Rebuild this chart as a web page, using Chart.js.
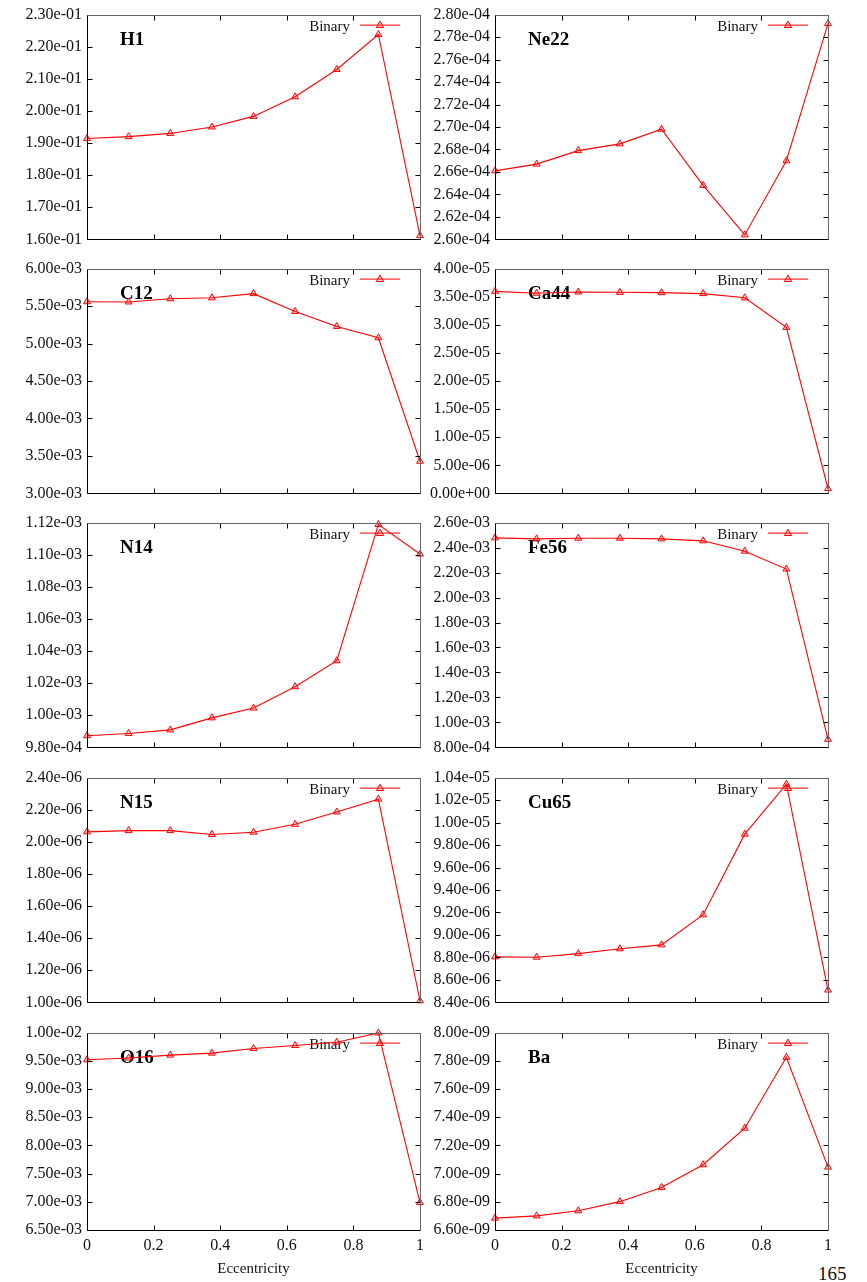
<!DOCTYPE html>
<html>
<head>
<meta charset="utf-8">
<script src="https://cdn.jsdelivr.net/npm/chart.js@4.4.0/dist/chart.umd.min.js"></script>
<style>
  html, body { margin: 0; padding: 0; background: #fff; }
  body { width: 867px; height: 1282px; position: relative; overflow: hidden; }
  .panel { position: absolute; }
  #page { position: absolute; left: 818px; top: 1264px; font: 19px 'Liberation Serif', serif; line-height: 19px; color: #111; }
</style>
</head>
<body>
<div id="page">165</div>
<script>
// Eccentricity grid and per-species abundances
const ecc  = [0, 0.125, 0.25, 0.375, 0.5, 0.625, 0.75, 0.875, 1];
const h1   = [1.914e-1, 1.920e-1, 1.930e-1, 1.950e-1, 1.983e-1, 2.044e-1, 2.129e-1, 2.238e-1, 1.612e-1];
const ne22 = [2.661e-4, 2.667e-4, 2.679e-4, 2.685e-4, 2.698e-4, 2.648e-4, 2.604e-4, 2.670e-4, 2.792e-4];
const c12  = [5.558e-3, 5.555e-3, 5.597e-3, 5.610e-3, 5.666e-3, 5.428e-3, 5.228e-3, 5.077e-3, 3.429e-3];
const ca44 = [3.595e-5, 3.561e-5, 3.584e-5, 3.578e-5, 3.572e-5, 3.555e-5, 3.480e-5, 2.954e-5, 0.087e-5];
const n14  = [9.873e-4, 9.887e-4, 9.909e-4, 9.984e-4, 1.0045e-3, 1.0178e-3, 1.0340e-3, 1.1188e-3, 1.1004e-3];
const fe56 = [2.478e-3, 2.470e-3, 2.475e-3, 2.475e-3, 2.470e-3, 2.454e-3, 2.371e-3, 2.228e-3, 0.865e-3];
const n15  = [2.062e-6, 2.070e-6, 2.070e-6, 2.046e-6, 2.060e-6, 2.109e-6, 2.186e-6, 2.266e-6, 1.010e-6];
const cu65 = [8.805e-6, 8.802e-6, 8.834e-6, 8.877e-6, 8.912e-6, 9.180e-6, 9.897e-6, 1.0342e-5, 8.510e-6];
const o16  = [9.519e-3, 9.549e-3, 9.601e-3, 9.636e-3, 9.719e-3, 9.771e-3, 9.830e-3, 9.994e-3, 6.987e-3];
const ba   = [6.684e-9, 6.700e-9, 6.736e-9, 6.801e-9, 6.902e-9, 7.063e-9, 7.322e-9, 7.825e-9, 7.046e-9];

// Panels in reading order (left, right, left, right ...)
const species = ['H1', 'Ne22', 'C12', 'Ca44', 'N14', 'Fe56', 'N15', 'Cu65', 'O16', 'Ba'];
const seriesList = [h1, ne22, c12, ca44, n14, fe56, n15, cu65, o16, ba];
const yMins  = [1.6e-1, 2.6e-4, 3.0e-3, 0,      9.8e-4,  8.0e-4, 1.0e-6, 8.4e-6,  6.5e-3, 6.6e-9];
const yMaxs  = [2.3e-1, 2.8e-4, 6.0e-3, 4.0e-5, 1.12e-3, 2.6e-3, 2.4e-6, 1.04e-5, 1.0e-2, 8.0e-9];
const ySteps = [1e-2,   2e-6,   5e-4,   5e-6,   2e-5,    2e-4,   2e-7,   2e-7,    5e-4,   2e-10];
const xTicks = [0, 0.2, 0.4, 0.6, 0.8, 1];
const seriesLabel = 'Binary';
const xTitle = 'Eccentricity';

const SERIF = "'Liberation Serif', 'Times New Roman', serif";
const RED = '#ff0000';

// ── Helpers ────────────────────────────────────

function fmtSci(v) {
  const parts = v.toExponential(2).split('e');
  const sign = parts[1][0];
  const digits = parts[1].slice(1).padStart(2, '0');
  return parts[0] + 'e' + sign + digits;
}

function drawTriangle(ctx, x, y, r) {
  ctx.beginPath();
  ctx.moveTo(x, y - r);
  ctx.lineTo(x + r * 0.9, y + r * 0.6);
  ctx.lineTo(x - r * 0.9, y + r * 0.6);
  ctx.closePath();
  ctx.fillStyle = 'rgba(255,0,0,0.2)';
  ctx.fill();
  ctx.strokeStyle = RED;
  ctx.lineWidth = 1;
  ctx.stroke();
}

// gnuplot-like frame: box, inward ticks, bold species name, legend sample
const framePlugin = {
  id: 'frame',
  beforeDatasetsDraw(chart, args, opts) {
    const { ctx, chartArea: a } = chart;
    ctx.save();

    // name of the species
    ctx.font = 'bold 19px ' + SERIF;
    ctx.fillStyle = '#000';
    ctx.textAlign = 'left';
    ctx.textBaseline = 'alphabetic';
    ctx.fillText(opts.name, a.left + 33, a.top + 30);

    // legend: text, line, marker
    ctx.font = '15px ' + SERIF;
    ctx.fillStyle = '#111';
    ctx.textAlign = 'right';
    ctx.fillText(seriesLabel, a.right - 70, a.top + 16);
    const ly = a.top + 10.5;
    ctx.strokeStyle = RED;
    ctx.lineWidth = 1;
    ctx.beginPath();
    ctx.moveTo(a.right - 60, ly);
    ctx.lineTo(a.right - 20, ly);
    ctx.stroke();
    drawTriangle(ctx, a.right - 40, ly, 4);
    ctx.restore();
  },
  afterDatasetsDraw(chart) {
    const { ctx, chartArea: a, scales } = chart;
    ctx.save();
    ctx.lineWidth = 1;
    ctx.strokeStyle = '#000';
    const L = Math.round(a.left) + 0.5, R = Math.round(a.right) + 0.5;
    const T = Math.round(a.top) + 0.5, B = Math.round(a.bottom) + 0.5;
    // inward ticks
    ctx.beginPath();
    scales.y.ticks.forEach(t => {
      const py = Math.round(scales.y.getPixelForValue(t.value)) + 0.5;
      ctx.moveTo(L, py); ctx.lineTo(L + 5, py);
      ctx.moveTo(R, py); ctx.lineTo(R - 5, py);
    });
    scales.x.ticks.forEach(t => {
      const px = Math.round(scales.x.getPixelForValue(t.value)) + 0.5;
      ctx.moveTo(px, B); ctx.lineTo(px, B - 5);
      ctx.moveTo(px, T); ctx.lineTo(px, T + 5);
    });
    ctx.stroke();
    // box: left/bottom black, top/right grey
    ctx.beginPath();
    ctx.moveTo(L, T); ctx.lineTo(L, B); ctx.lineTo(R, B);
    ctx.stroke();
    ctx.strokeStyle = '#666';
    ctx.beginPath();
    ctx.moveTo(L, T); ctx.lineTo(R, T); ctx.lineTo(R, B);
    ctx.stroke();
    ctx.restore();
  },
};

// ── Panel builder ────────────────────────────────────

const rowTops = [12, 266, 520, 775, 1030];
const PAD_TOP = 12;

function createPanel(i) {
  const col = i % 2;
  const row = Math.floor(i / 2);
  const last = row === 4;
  const plotH = last ? 200 : 230;
  const axisH = last ? 52 : 12;
  const left = col === 0 ? 0 : 428;
  const width = col === 0 ? 430 : 439;
  const yAxisW = col === 0 ? 87 : 67;
  const padRight = col === 0 ? 10 : 39;

  const box = document.createElement('div');
  box.className = 'panel';
  box.style.left = left + 'px';
  box.style.top = (rowTops[row] - PAD_TOP) + 'px';
  box.style.width = width + 'px';
  box.style.height = (PAD_TOP + plotH + axisH) + 'px';
  const canvas = document.createElement('canvas');
  box.appendChild(canvas);
  document.body.appendChild(box);

  const vals = seriesList[i];
  const ymin = yMins[i], ymax = yMaxs[i], ystep = ySteps[i];

  return new Chart(canvas, {
    type: 'line',
    data: {
      datasets: [{
        label: seriesLabel,
        data: ecc.map((x, k) => ({ x, y: vals[k] })),
        borderColor: RED,
        borderWidth: 1.1,
        pointStyle: 'triangle',
        pointRadius: 4,
        pointBorderWidth: 1,
        pointBackgroundColor: 'rgba(255,0,0,0.2)',
        pointBorderColor: RED,
        tension: 0,
        clip: false,
      }],
    },
    options: {
      responsive: true,
      maintainAspectRatio: false,
      animation: false,
      events: [],
      layout: { padding: { top: PAD_TOP, right: padRight, bottom: 0, left: 0 } },
      plugins: {
        legend: { display: false },
        tooltip: { enabled: false },
        frame: { name: species[i] },
      },
      scales: {
        x: {
          type: 'linear',
          min: 0,
          max: 1,
          grid: { display: false, drawTicks: false },
          border: { display: false },
          afterBuildTicks: axis => { axis.ticks = xTicks.map(v => ({ value: v })); },
          afterFit: axis => { axis.height = axisH; },
          ticks: {
            display: last,
            padding: 6,
            color: '#111',
            font: { family: SERIF, size: 16 },
            callback: v => String(+v.toFixed(1)),
          },
          title: {
            display: last,
            text: xTitle,
            color: '#111',
            font: { family: SERIF, size: 15 },
            padding: { top: 0, bottom: 4 },
          },
        },
        y: {
          type: 'linear',
          min: ymin,
          max: ymax,
          grid: { display: false, drawTicks: false },
          border: { display: false },
          afterBuildTicks: axis => {
            const n = Math.round((ymax - ymin) / ystep);
            const t = [];
            for (let k = 0; k <= n; k++) t.push({ value: +(ymin + k * ystep).toPrecision(12) });
            axis.ticks = t;
          },
          afterFit: axis => { axis.width = yAxisW; },
          ticks: {
            padding: 5,
            color: '#111',
            font: { family: SERIF, size: 16 },
            callback: v => fmtSci(v),
          },
        },
      },
    },
    plugins: [framePlugin],
  });
}

species.forEach((_, i) => createPanel(i));
</script>
</body>
</html>
